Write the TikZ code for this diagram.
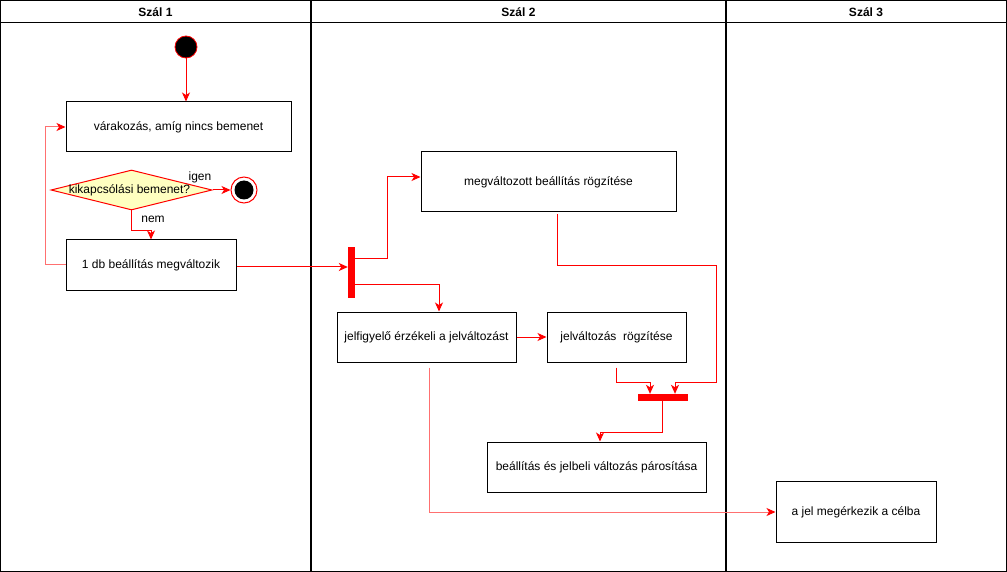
\documentclass[tikz,border=0pt]{standalone}
\usepackage{fontspec}
\setmainfont{Liberation Sans}
\usetikzlibrary{arrows.meta,shapes.geometric,backgrounds,calc}
\definecolor{lred}{HTML}{FF7070}
\definecolor{dyel}{HTML}{FFFFC0}
\tikzset{
  box/.style={draw=black,line width=1pt,fill=white,rectangle,inner sep=0pt,font=\fontsize{12}{14}\selectfont},
  conn/.style={draw=red,line width=1pt,-{Stealth[length=9pt,width=8pt,inset=2.5pt,color=red]}},
  plain/.style={draw=red,line width=1pt},
  lane/.style={draw=black,line width=1pt},
  head/.style={font=\fontsize{12}{14}\selectfont\bfseries},
  lbl/.style={font=\fontsize{12}{14}\selectfont,inner sep=0pt},
  bar/.style={fill=red,draw=red,inner sep=0pt,rectangle}
}
\begin{document}
\begin{tikzpicture}[x=1pt,y=-1pt]
\useasboundingbox (0,0) rectangle (1007,572);
\fill[white] (0,0) rectangle (1007,572);
% lanes
\draw[lane] (0.5,0.5) rectangle (1006.5,571.5);
\draw[lane] (0.5,23) -- (1006.5,23);
\draw[lane,line width=1.3pt] (311,0.5) -- (311,571.5);
\draw[lane,line width=1.3pt] (726,0.5) -- (726,571.5);
\node[head] (h1) at (155.5,12) {Szál 1};
\node[head] (h2) at (518.5,12) {Szál 2};
\node[head] (h3) at (866,12) {Szál 3};
% nodes
\node[circle,fill=black,draw=red,line width=0.8pt,minimum size=22pt,inner sep=0pt] (start) at (186,47) {};
\node[box,minimum width=225pt,minimum height=50pt] (b1) at (178.5,127) {várakozás, amíg nincs bemenet};
\node[diamond,draw=red,fill=dyel,line width=1pt,shape aspect=4,inner sep=0pt,minimum width=161pt,minimum height=40pt,font=\fontsize{12}{14}\selectfont] (dec) at (131.5,190) {};
\node[lbl] (dect) at (129.5,190) {kikapcsólási bemenet?};
\node[circle,draw=red,fill=white,line width=1pt,minimum size=26pt,inner sep=0pt] (end) at (244,190) {};
\node[circle,fill=black,minimum size=19pt,inner sep=0pt] (endin) at (end.center) {};
\node[box,minimum width=170pt,minimum height=50pt] (b2) at (151,265) {1 db beállítás megváltozik};
\node[bar,minimum width=6pt,minimum height=50pt] (fork) at (351,272) {};
\node[box,minimum width=255pt,minimum height=60pt] (b3) at (548.5,182) {megváltozott beállítás rögzítése};
\node[box,minimum width=179pt,minimum height=50pt] (b4) at (426.5,337) {jelfigyelő érzékeli a jelváltozást};
\node[box,minimum width=139pt,minimum height=50pt] (b5) at (616.5,337) {jelváltozás\ \ rögzítése};
\node[bar,minimum width=49pt,minimum height=6pt] (join) at (662.5,397) {};
\node[box,minimum width=219pt,minimum height=50pt] (b6) at (596.5,467) {beállítás és jelbeli változás párosítása};
\node[box,minimum width=160pt,minimum height=61pt] (b7) at (856,512) {a jel megérkezik a célba};
\node[lbl] (igen) at (200,177) {igen};
\node[lbl] (nem) at (153,219) {nem};
% connectors
\begin{scope}[on background layer]
\draw[plain] ([xshift=0.5pt]b1.south) -- ++(0,20) -| ([yshift=-2pt]dec.north);
\end{scope}
\draw[conn] (start.south) -- (b1.north -| start.south);
\draw[conn] (dec.east) -- (end.west);
\draw[conn] (dec.south) -- ++(0,20) -| ([xshift=0pt]b2.north);
\draw[conn,draw=lred] (b2.west) -- ++(-20,0) |- (b1.west);
\coordinate (fin) at ($(fork.west)+(0,-5)$);
\draw[conn] (b2.east |- fin) -- (fin);
\coordinate (fa) at ($(fork.east)+(0,-13)$);
\coordinate (fb) at ($(fork.east)+(0,12)$);
\draw[conn] (fa) -- ++(33,0) |- ([yshift=5pt]b3.west);
\draw[conn] (fb) -| ([xshift=12.5pt]b4.north);
\draw[conn] (b4.east) -- (b5.west);
\draw[conn] ([yshift=-5pt]b5.south) -- ++(0,15) -| ([xshift=-12.5pt]join.north);
\draw[conn] ([xshift=8.5pt,yshift=-2pt]b3.south) -- ++(0,51) -| ++(159,117) -| ([xshift=12.5pt]join.north);
\draw[conn] (join.south) -- ++(0,32) -| ([xshift=3.5pt]b6.north);
\draw[conn,draw=lred] ([xshift=2.5pt,yshift=-5pt]b4.south) |- (b7.west);
\end{tikzpicture}
\end{document}
